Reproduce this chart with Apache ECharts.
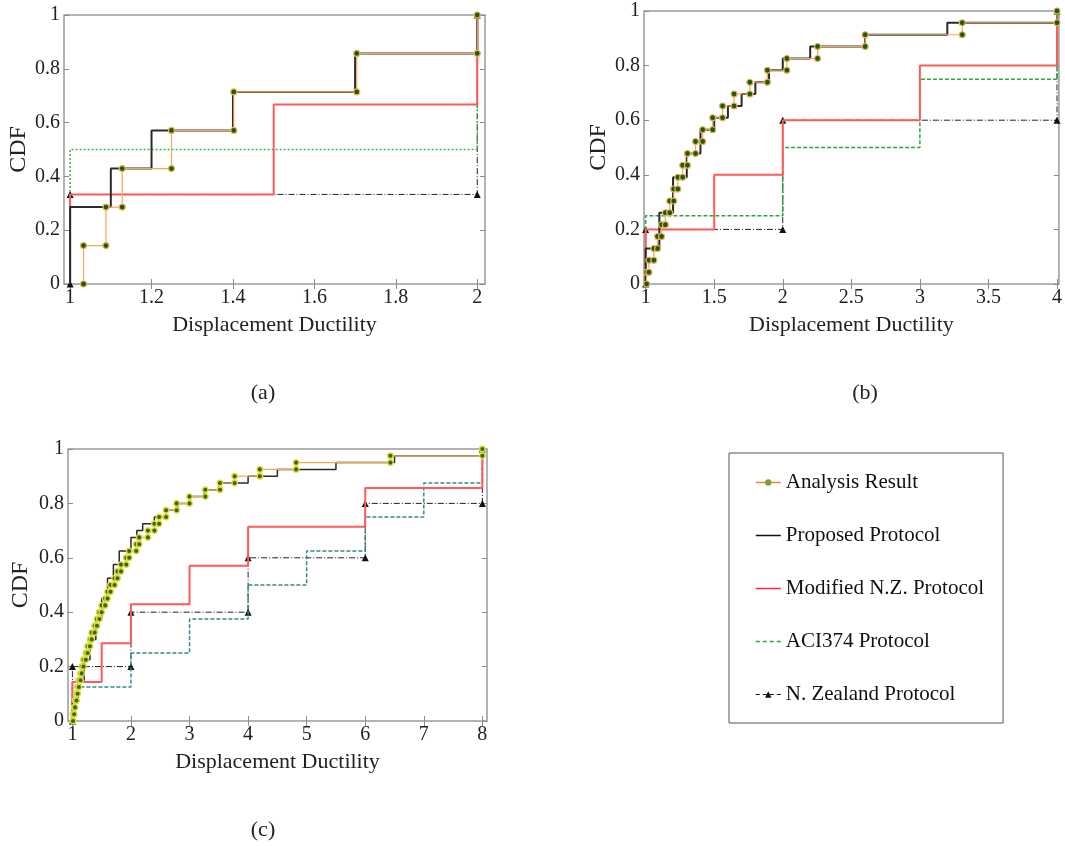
<!DOCTYPE html>
<html><head><meta charset="utf-8">
<script src="https://cdn.jsdelivr.net/npm/echarts@6/dist/echarts.min.js"></script>
<style>html,body{margin:0;padding:0;background:#fff}#c{width:1065px;height:846px}</style>
</head><body><div id="c"></div><script>
// ---------- names ----------
const seriesNames = ['Analysis Result','Proposed Protocol','Modified N.Z. Protocol','ACI374 Protocol','N. Zealand Protocol'];
const xAxisTitle = 'Displacement Ductility';
const yAxisTitle = 'CDF';
const panelLabels = ['(a)','(b)','(c)'];

// ---------- tick labels ----------
const xTicksA = [1,1.2,1.4,1.6,1.8,2];
const xTicksB = [1,1.5,2,2.5,3,3.5,4];
const xTicksC = [1,2,3,4,5,6,7,8];
const yTicks = [0,0.2,0.4,0.6,0.8,1];

// ---------- panel (a): step x positions and CDF level after each step ----------
const aAnalysisX = [1.033,1.088,1.128,1.249,1.402,1.704,2.0];
const aAnalysisF = [0.143,0.286,0.429,0.571,0.714,0.857,1.0];
const aProposedX = [1.0,1.1,1.2,1.4,1.7,2.0];
const aProposedF = [0.286,0.429,0.571,0.714,0.857,1.0];
const aModNZX = [1.0,1.5,2.0];
const aModNZF = [0.333,0.667,1.0];
const aACIX = [1.0,2.0];
const aACIF = [0.5,1.0];
const aNZX = [1.0,2.0];
const aNZF = [0.333,1.0];

// ---------- panel (b) ----------
const bAnalysisX = [1.007,1.024,1.06,1.087,1.116,1.144,1.176,1.205,1.235,1.27,1.305,1.364,1.416,1.489,1.561,1.645,1.76,1.888,2.03,2.254,2.601,3.309,4.0];
const bAnalysisF = [0.043,0.087,0.130,0.174,0.217,0.261,0.304,0.348,0.391,0.435,0.478,0.522,0.565,0.609,0.652,0.696,0.739,0.783,0.826,0.870,0.913,0.957,1.0];
const bProposedX = [1.0,1.1,1.2,1.3,1.4,1.5,1.6,1.7,1.8,1.9,2.0,2.2,2.6,3.2,4.0];
const bProposedF = [0.130,0.261,0.391,0.478,0.565,0.609,0.652,0.696,0.739,0.783,0.826,0.870,0.913,0.957,1.0];
const bModNZX = [1.0,1.5,2.0,3.0,4.0];
const bModNZF = [0.2,0.4,0.6,0.8,1.0];
const bACIX = [1.0,2.0,3.0,4.0];
const bACIF = [0.25,0.5,0.75,1.0];
const bNZX = [1.0,2.0,4.0];
const bNZF = [0.2,0.6,1.0];

// ---------- panel (c) ----------
const cAnalysisX = [1.01,1.03,1.045,1.07,1.09,1.11,1.14,1.16,1.19,1.23,1.26,1.30,1.33,1.38,1.42,1.46,1.50,1.56,1.60,1.65,1.72,1.77,1.83,1.92,1.97,2.09,2.14,2.29,2.40,2.48,2.60,2.78,3.0,3.27,3.52,3.77,4.2,4.82,6.43,8.0];
const cAnalysisF = [0.025,0.05,0.075,0.1,0.125,0.15,0.175,0.2,0.225,0.25,0.275,0.3,0.325,0.35,0.375,0.4,0.425,0.45,0.475,0.5,0.525,0.55,0.575,0.6,0.625,0.65,0.675,0.7,0.725,0.75,0.775,0.8,0.825,0.85,0.875,0.9,0.925,0.95,0.975,1.0];
const cProposedX = [1.0,1.1,1.2,1.3,1.4,1.5,1.6,1.7,1.8,2.0,2.1,2.2,2.4,2.6,2.8,3.0,3.25,3.5,4.0,4.5,5.5,6.5,8.0];
const cProposedF = [0.075,0.15,0.225,0.3,0.375,0.45,0.525,0.575,0.625,0.675,0.7,0.725,0.75,0.775,0.8,0.825,0.85,0.875,0.9,0.925,0.95,0.975,1.0];
const cModNZX = [1.0,1.5,2.0,3.0,4.0,6.0,8.0];
const cModNZF = [0.143,0.286,0.429,0.571,0.714,0.857,1.0];
const cACIX = [1,2,3,4,5,6,7,8];
const cACIF = [0.125,0.25,0.375,0.5,0.625,0.75,0.875,1.0];
const cNZX = [1,2,4,6,8];
const cNZF = [0.2,0.4,0.6,0.8,1.0];

// ---------- build ----------
function stairs(xs, fs){
  const pts=[]; let prev=0;
  for(let i=0;i<xs.length;i++){ pts.push([xs[i],prev]); pts.push([xs[i],fs[i]]); prev=fs[i]; }
  return pts;
}
const SERIF = '"Liberation Serif","DejaVu Serif",serif';
const panels = [
  {grid:{left:64,top:15,width:421,height:269}, xmin:0.985, xmax:2.019, ticks:xTicksA,
   data:[[aAnalysisX,aAnalysisF],[aProposedX,aProposedF],[aModNZX,aModNZF],[aACIX,aACIF],[aNZX,aNZF]],
   aci:{color:'#3cb54a',type:[2,2]}, dot:{fill:'#1e5c0c',border:'#eab25a',size:6,bw:1.2}, yGap:32},
  {grid:{left:644,top:11,width:419,height:273}, xmin:0.988, xmax:4.014, ticks:xTicksB,
   data:[[bAnalysisX,bAnalysisF],[bProposedX,bProposedF],[bModNZX,bModNZF],[bACIX,bACIF],[bNZX,bNZF]],
   aci:{color:'#2aa83a',type:[4,2]}, dot:{fill:'#1e5c0c',border:'#eab25a',size:6,bw:1.2}, yGap:32},
  {grid:{left:68,top:449,width:419,height:272}, xmin:0.925, xmax:8.079, ticks:xTicksC,
   data:[[cAnalysisX,cAnalysisF],[cProposedX,cProposedF],[cModNZX,cModNZF],[cACIX,cACIF],[cNZX,cNZF]],
   aci:{color:'#2f8c86',type:[4,2]}, dot:{fill:'#3d6412',border:'#dcdc3a',size:5.5,bw:1.4}, yGap:35}
];

const grids=[], xAxes=[], yAxes=[], series=[];
panels.forEach((p,gi)=>{
  grids.push(Object.assign({show:true,borderColor:'#9a9a9a',borderWidth:1.5,containLabel:false}, p.grid));
  const tick = {show:true,inside:true,length:5,lineStyle:{color:'#8a8a8a',width:1}};
  xAxes.push({gridIndex:gi,type:'value',min:p.xmin,max:p.xmax,position:'bottom',
    axisLine:{show:false},splitLine:{show:false},
    axisTick:Object.assign({customValues:p.ticks},tick),
    axisLabel:{customValues:p.ticks,fontFamily:SERIF,fontSize:20,color:'#222',margin:4},
    name:xAxisTitle,nameLocation:'middle',nameGap:30,
    nameTextStyle:{fontFamily:SERIF,fontSize:22,color:'#222'}});
  xAxes.push({gridIndex:gi,type:'value',min:p.xmin,max:p.xmax,position:'top',
    axisLine:{show:false},splitLine:{show:false},
    axisTick:Object.assign({customValues:p.ticks},tick),axisLabel:{show:false}});
  yAxes.push({gridIndex:gi,type:'value',min:0,max:1,interval:0.2,position:'left',
    axisLine:{show:false},splitLine:{show:false},axisTick:tick,
    axisLabel:{fontFamily:SERIF,fontSize:20,color:'#222',margin:4},
    name:yAxisTitle,nameLocation:'middle',nameGap:p.yGap,
    nameTextStyle:{fontFamily:SERIF,fontSize:24,color:'#222'}});
  yAxes.push({gridIndex:gi,type:'value',min:0,max:1,interval:0.2,position:'right',
    axisLine:{show:false},splitLine:{show:false},axisTick:tick,axisLabel:{show:false}});
  const xi = gi*2, yi = gi*2;
  const [an,pr,mn,ac,nz] = p.data;
  series.push({name:seriesNames[4],type:'line',xAxisIndex:xi,yAxisIndex:yi,data:stairs(nz[0],nz[1]),
    symbol:'triangle',symbolSize:7,itemStyle:{color:'#111'},
    lineStyle:{color:'#222',width:1,type:[6,2,1,2]},z:2});
  series.push({name:seriesNames[3],type:'line',xAxisIndex:xi,yAxisIndex:yi,data:stairs(ac[0],ac[1]),
    symbol:'none',itemStyle:{color:p.aci.color},lineStyle:{color:p.aci.color,width:1.5,type:p.aci.type},z:3});
  series.push({name:seriesNames[2],type:'line',xAxisIndex:xi,yAxisIndex:yi,data:stairs(mn[0],mn[1]),
    symbol:'none',itemStyle:{color:'#ff5252'},lineStyle:{color:'#ff5a5a',width:2},z:4});
  series.push({name:seriesNames[1],type:'line',xAxisIndex:xi,yAxisIndex:yi,data:stairs(pr[0],pr[1]),
    symbol:'none',itemStyle:{color:'#222'},lineStyle:{color:'#2a2a2a',width:gi===2?1.5:2},z:5});
  series.push({name:seriesNames[0],type:'line',xAxisIndex:xi,yAxisIndex:yi,data:stairs(an[0],an[1]),
    symbol:'circle',symbolSize:p.dot.size,
    itemStyle:{color:p.dot.fill,borderColor:p.dot.border,borderWidth:p.dot.bw},
    lineStyle:{color:'#f2a95a',width:1.2},z:6});
});

const hideSym = {opacity:0};
const chart = echarts.init(document.getElementById('c'),null,{renderer:'canvas'});
chart.setOption({
  animation:false,
  backgroundColor:'#fff',
  grid:grids, xAxis:xAxes, yAxis:yAxes, series:series,
  legend:{
    data:[
      {name:seriesNames[0],itemStyle:{color:'#78a040',borderColor:'#78a040',borderWidth:0},lineStyle:{color:'#e8883a',width:1.5}},
      {name:seriesNames[1],itemStyle:hideSym,lineStyle:{color:'#111',width:1.5}},
      {name:seriesNames[2],itemStyle:hideSym,lineStyle:{color:'#ff3030',width:1.5}},
      {name:seriesNames[3],itemStyle:hideSym,lineStyle:{color:'#22aa44',width:1.5,type:[4,3]}},
      {name:seriesNames[4],itemStyle:{color:'#111'},lineStyle:{color:'#111',width:1.2,type:[4,3]}}
    ],
    orient:'vertical',left:729,top:453,
    padding:[19,19,18,26],itemWidth:25,itemHeight:8,itemGap:32,
    borderColor:'#555',borderWidth:1,
    textStyle:{fontFamily:SERIF,fontSize:21,color:'#111',lineHeight:21},
    selectedMode:false},
  graphic:[
    {type:'text',style:{text:panelLabels[0],x:263,y:393,textAlign:'center',textVerticalAlign:'middle',verticalAlign:'middle',font:'22px "Liberation Serif"',fill:'#222'}},
    {type:'text',style:{text:panelLabels[1],x:865,y:393,textAlign:'center',textVerticalAlign:'middle',verticalAlign:'middle',font:'22px "Liberation Serif"',fill:'#222'}},
    {type:'text',style:{text:panelLabels[2],x:263,y:830,textAlign:'center',textVerticalAlign:'middle',verticalAlign:'middle',font:'22px "Liberation Serif"',fill:'#222'}}
  ]
});
</script></body></html>
